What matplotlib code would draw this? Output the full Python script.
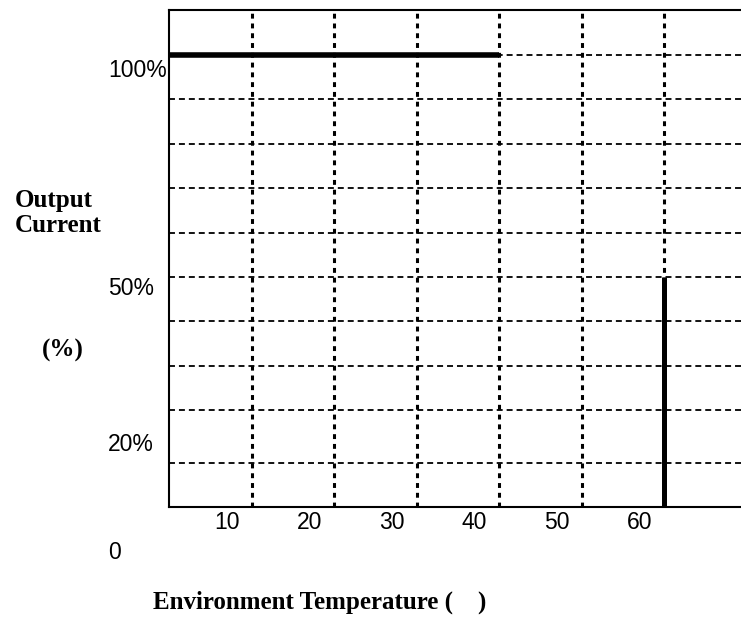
import matplotlib
matplotlib.use("Agg")
import matplotlib.pyplot as plt
from matplotlib import transforms

# ---- data ----
x_tick_values = [10, 20, 30, 40, 50, 60]
x_tick_labels = ["10", "20", "30", "40", "50", "60"]
v_grid_temps = [13, 23, 33, 43, 53, 63]
h_grid_pcts = [100, 90, 80, 70, 60, 50, 40, 30, 20, 8]
y_label_pcts = [96.4, 47.3, 12.2, -12]
y_label_texts = ["100%", "50%", "20%", "0"]
full_temps = [3, 43]
full_pcts = [100, 100]
cutoff_temp = 63
cutoff_pct = 50

W, H = 741, 623
fig = plt.figure(figsize=(W / 100, H / 100), dpi=100)
left, top, bottom, right = 169, 10, 507, 741
ax = fig.add_axes([left / W, 1 - bottom / H, (right - left) / W, (bottom - top) / H])

xmin, xmax = 3.0, 3.0 + (right - left) / 8.25
ymin, ymax = (499 - bottom) / 4.44, (499 - top) / 4.44
ax.set_xlim(xmin, xmax)
ax.set_ylim(ymin, ymax)

sans = ["Liberation Sans"]
fs_sans = 16.5

for s in ["left", "top", "bottom"]:
    ax.spines[s].set_linewidth(1.5)
    ax.spines[s].set_color("black")
ax.spines["right"].set_visible(False)

# grid
for p in h_grid_pcts:
    ax.plot([xmin, xmax], [p, p], color="black", lw=1.3, dashes=(3.3, 2.2), zorder=2)
for t in v_grid_temps:
    ax.plot([t, t], [ymin, ymax], color="black", lw=2.2, dashes=(1.6, 1.6), zorder=2)

# derating curve
ax.plot(full_temps, full_pcts, color="black", lw=4.0, solid_capstyle="butt", zorder=3)
ax.plot([cutoff_temp, cutoff_temp], [cutoff_pct, ymin], color="black", lw=3.6,
        solid_capstyle="butt", zorder=3)

ax.set_xticks(x_tick_values)
ax.set_xticklabels(x_tick_labels, family=sans, fontsize=fs_sans)
ax.tick_params(axis="x", length=0, pad=3)
ax.set_yticks([])

tr = transforms.blended_transform_factory(fig.transFigure, ax.transData)
for p, s in zip(y_label_pcts, y_label_texts):
    ax.text(108 / W, p, s, transform=tr, ha="left", va="center", family=sans,
            fontsize=fs_sans, clip_on=False)

serif = ["Liberation Serif"]
fs_serif = 18
fig.text(15 / W, 1 - 201 / H, "Output", ha="left", va="center", family=serif,
         fontweight="bold", fontsize=fs_serif)
fig.text(15 / W, 1 - 225 / H, "Current", ha="left", va="center", family=serif,
         fontweight="bold", fontsize=fs_serif)
fig.text(63 / W, 1 - 350 / H, "(%)", ha="center", va="center", family=serif,
         fontweight="bold", fontsize=fs_serif)
fig.text(153 / W, 1 - 602 / H, "Environment Temperature (    )", ha="left", va="center",
         family=serif, fontweight="bold", fontsize=fs_serif)

fig.savefig("out.png", dpi=100)
